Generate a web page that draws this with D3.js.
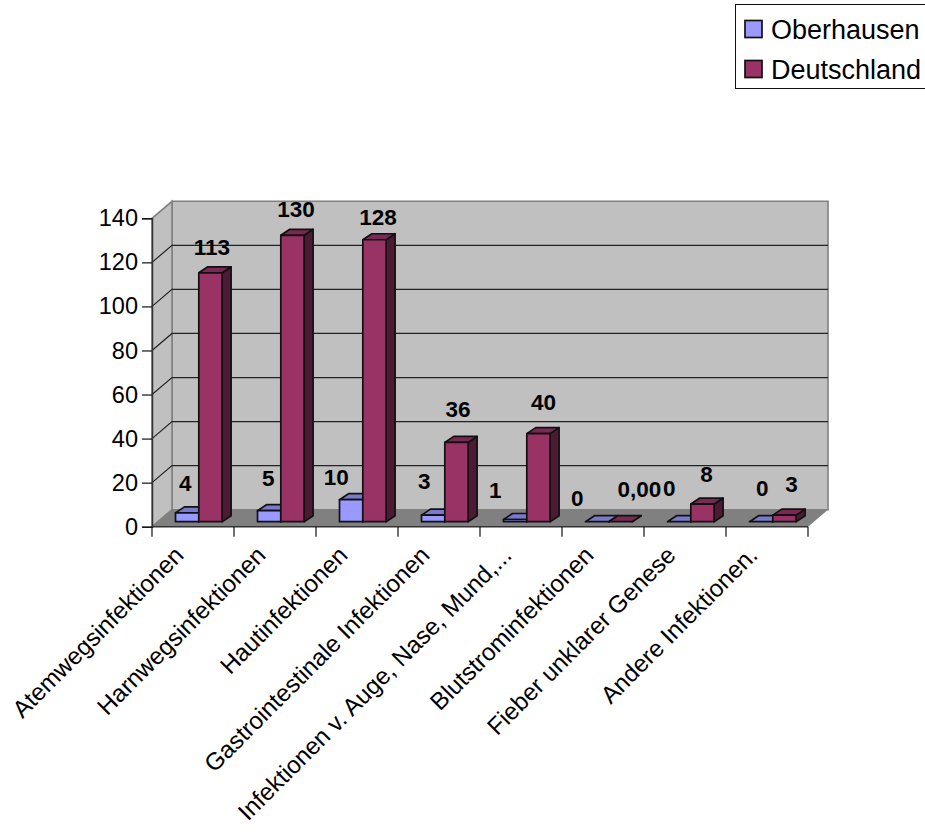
<!DOCTYPE html>
<html>
<head>
<meta charset="utf-8">
<script src="https://cdn.jsdelivr.net/npm/d3@7/dist/d3.min.js"></script>
<style>
  html, body { margin: 0; padding: 0; background: #fff; overflow: hidden; }
  text { font-family: "Liberation Sans", Arial, sans-serif; fill: #000; }
</style>
</head>
<body>
<svg id="chart" width="925" height="838"></svg>
<script>
// Infection counts by type, Oberhausen against the national figures
const categories = ["Atemwegsinfektionen", "Harnwegsinfektionen", "Hautinfektionen",
  "Gastrointestinale Infektionen", "Infektionen v. Auge, Nase, Mund,...",
  "Blutstrominfektionen", "Fieber unklarer Genese", "Andere Infektionen."];
const seriesNames = ["Oberhausen", "Deutschland"];
const oberhausen = [4, 5, 10, 3, 1, 0, 0, 0];
const deutschland = [113, 130, 128, 36, 40, 0, 8, 3];
const oberhausenLabels = ["4", "5", "10", "3", "1", "0", "0", "0"];
const deutschlandLabels = ["113", "130", "128", "36", "40", "0,00", "8", "3"];
const yTicks = [0, 20, 40, 60, 80, 100, 120, 140];

// Hand-placed data label offsets, relative to the top centre of each bar
const oberhausenLabelDx = [-2, -1, -15, -9, -20, -20, -10, 1];
const oberhausenLabelDy = [-30, -33, -23, -34, -30, -24, -34, -34];
const deutschlandLabelDx = [1.5, 3.6, 3.6, 1.6, 5, 19, 4, 7];
const deutschlandLabelDy = [-26, -26, -23, -33, -32, -33, -30, -31];

const colors = {
  wall: "#c0c0c0", floor: "#808080", frame: "#808080", ink: "#111",
  series: [
    { face: "#9999ff", top: "#7a7acc", side: "#4c4c80" },
    { face: "#993366", top: "#7a2952", side: "#4d1a33" }
  ]
};

const svg = d3.select("#chart");
const depth = { x: 20, y: -17 };      // plot box depth
const barDepth = { x: 9, y: -6 };     // depth of a single bar
const barLift = 5;                    // bars stand slightly behind the front edge
const barInset = 23.5;
const barWidth = 23.3;

const x = d3.scaleBand().domain(categories).range([152, 808]);
const y = d3.scaleLinear().domain([0, 140]).range([526.7, 218.3]);
const poly = pts => pts.map(p => p.join(",")).join(" ");

// Plot box: back wall, left wall and floor
const x0 = x.range()[0], x1 = x.range()[1], y0 = y(0), yT = y(140);
svg.append("polygon")
  .attr("points", poly([[x0 + depth.x, yT + depth.y], [x1 + depth.x, yT + depth.y],
                        [x1 + depth.x, y0 + depth.y], [x0 + depth.x, y0 + depth.y]]))
  .attr("fill", colors.wall).attr("stroke", colors.frame).attr("stroke-width", 1.6);
svg.append("polygon")
  .attr("points", poly([[x0, yT], [x0 + depth.x, yT + depth.y],
                        [x0 + depth.x, y0 + depth.y], [x0, y0]]))
  .attr("fill", colors.wall).attr("stroke", colors.frame).attr("stroke-width", 1.6);
svg.append("polygon")
  .attr("points", poly([[x0, y0], [x0 + depth.x, y0 + depth.y],
                        [x1 + depth.x, y0 + depth.y], [x1, y0]]))
  .attr("fill", colors.floor);

// Gridlines run along the left wall and across the back wall
const grid = svg.append("g").attr("fill", "none").attr("stroke", "#222").attr("stroke-width", 1.2);
yTicks.filter(t => t > 0 && t < 140).forEach(t => {
  grid.append("polyline").attr("points",
    poly([[x0, y(t)], [x0 + depth.x, y(t) + depth.y], [x1 + depth.x, y(t) + depth.y]]));
});

// Value axis
const yAxis = svg.append("g").attr("transform", `translate(${x0},0)`)
  .call(d3.axisLeft(y).tickValues(yTicks).tickSize(10).tickPadding(4));
yAxis.select(".domain").attr("stroke", "#333").attr("stroke-width", 1.5);
yAxis.selectAll("line").attr("stroke", "#111").attr("stroke-width", 1.2);
yAxis.selectAll("text").style("font-size", "23.5px").attr("fill", "#000");

// Category axis: ticks sit on the band boundaries
const boundaries = categories.map(c => x(c)).concat([x1]);
svg.append("line").attr("x1", x0).attr("x2", x1).attr("y1", y0).attr("y2", y0)
  .attr("stroke", "#333").attr("stroke-width", 1.5);
svg.selectAll(".xtick").data(boundaries).join("line").attr("class", "xtick")
  .attr("x1", d => d).attr("x2", d => d).attr("y1", y0).attr("y2", y0 + 10)
  .attr("stroke", "#111").attr("stroke-width", 1.2);
svg.selectAll(".xlabel").data(categories).join("text").attr("class", "xlabel")
  .attr("transform", d => `translate(${x(d) + x.bandwidth() / 2 - 8},${y0 + 30}) rotate(-45)`)
  .attr("text-anchor", "end")
  .style("font-size", "24.2px")
  .text(d => d);

// Bars, back to front within each category
const allSeries = [oberhausen, deutschland];
categories.forEach((cat, i) => {
  allSeries.forEach((values, s) => {
    const c = colors.series[s];
    const left = x(cat) + barInset + s * barWidth;
    const right = left + barWidth;
    const base = y(0) - barLift;
    const top = y(values[i]) - barLift;
    const g = svg.append("g").attr("stroke", colors.ink).attr("stroke-width", 1.7).attr("stroke-linejoin", "round");
    g.append("polygon").attr("fill", c.side)
      .attr("points", poly([[right, top], [right + barDepth.x, top + barDepth.y],
                            [right + barDepth.x, base + barDepth.y], [right, base]]));
    g.append("polygon").attr("fill", c.top)
      .attr("points", poly([[left, top], [left + barDepth.x, top + barDepth.y],
                            [right + barDepth.x, top + barDepth.y], [right, top]]));
    g.append("rect").attr("fill", c.face)
      .attr("x", left).attr("y", top).attr("width", barWidth).attr("height", base - top);
  });
});

// Data labels
[[oberhausen, oberhausenLabels, oberhausenLabelDx, oberhausenLabelDy],
 [deutschland, deutschlandLabels, deutschlandLabelDx, deutschlandLabelDy]].forEach(([values, labels, dx, dy], s) => {
  categories.forEach((cat, i) => {
    svg.append("text")
      .attr("x", x(cat) + barInset + s * barWidth + barWidth / 2 + dx[i])
      .attr("y", y(values[i]) - barLift + dy[i])
      .attr("dy", "0.36em")
      .attr("text-anchor", "middle")
      .style("font-size", "22.5px").style("font-weight", "bold")
      .text(labels[i]);
  });
});

// Legend, running off the right edge of the page
const legend = svg.append("g");
legend.append("rect").attr("x", 735.5).attr("y", 4.5).attr("width", 200).attr("height", 84)
  .attr("fill", "#fff").attr("stroke", "#111").attr("stroke-width", 1);
const legendY = d3.scalePoint().domain(seriesNames).range([29, 69]);
seriesNames.forEach((name, s) => {
  legend.append("rect").attr("x", 745).attr("y", legendY(name) - 8.5).attr("width", 17).attr("height", 17)
    .attr("fill", colors.series[s].face).attr("stroke", colors.ink).attr("stroke-width", 1.7);
  legend.append("text").attr("x", 771).attr("y", legendY(name)).attr("dy", "0.36em")
    .style("font-size", "27px").text(name);
});
</script>
</body>
</html>
